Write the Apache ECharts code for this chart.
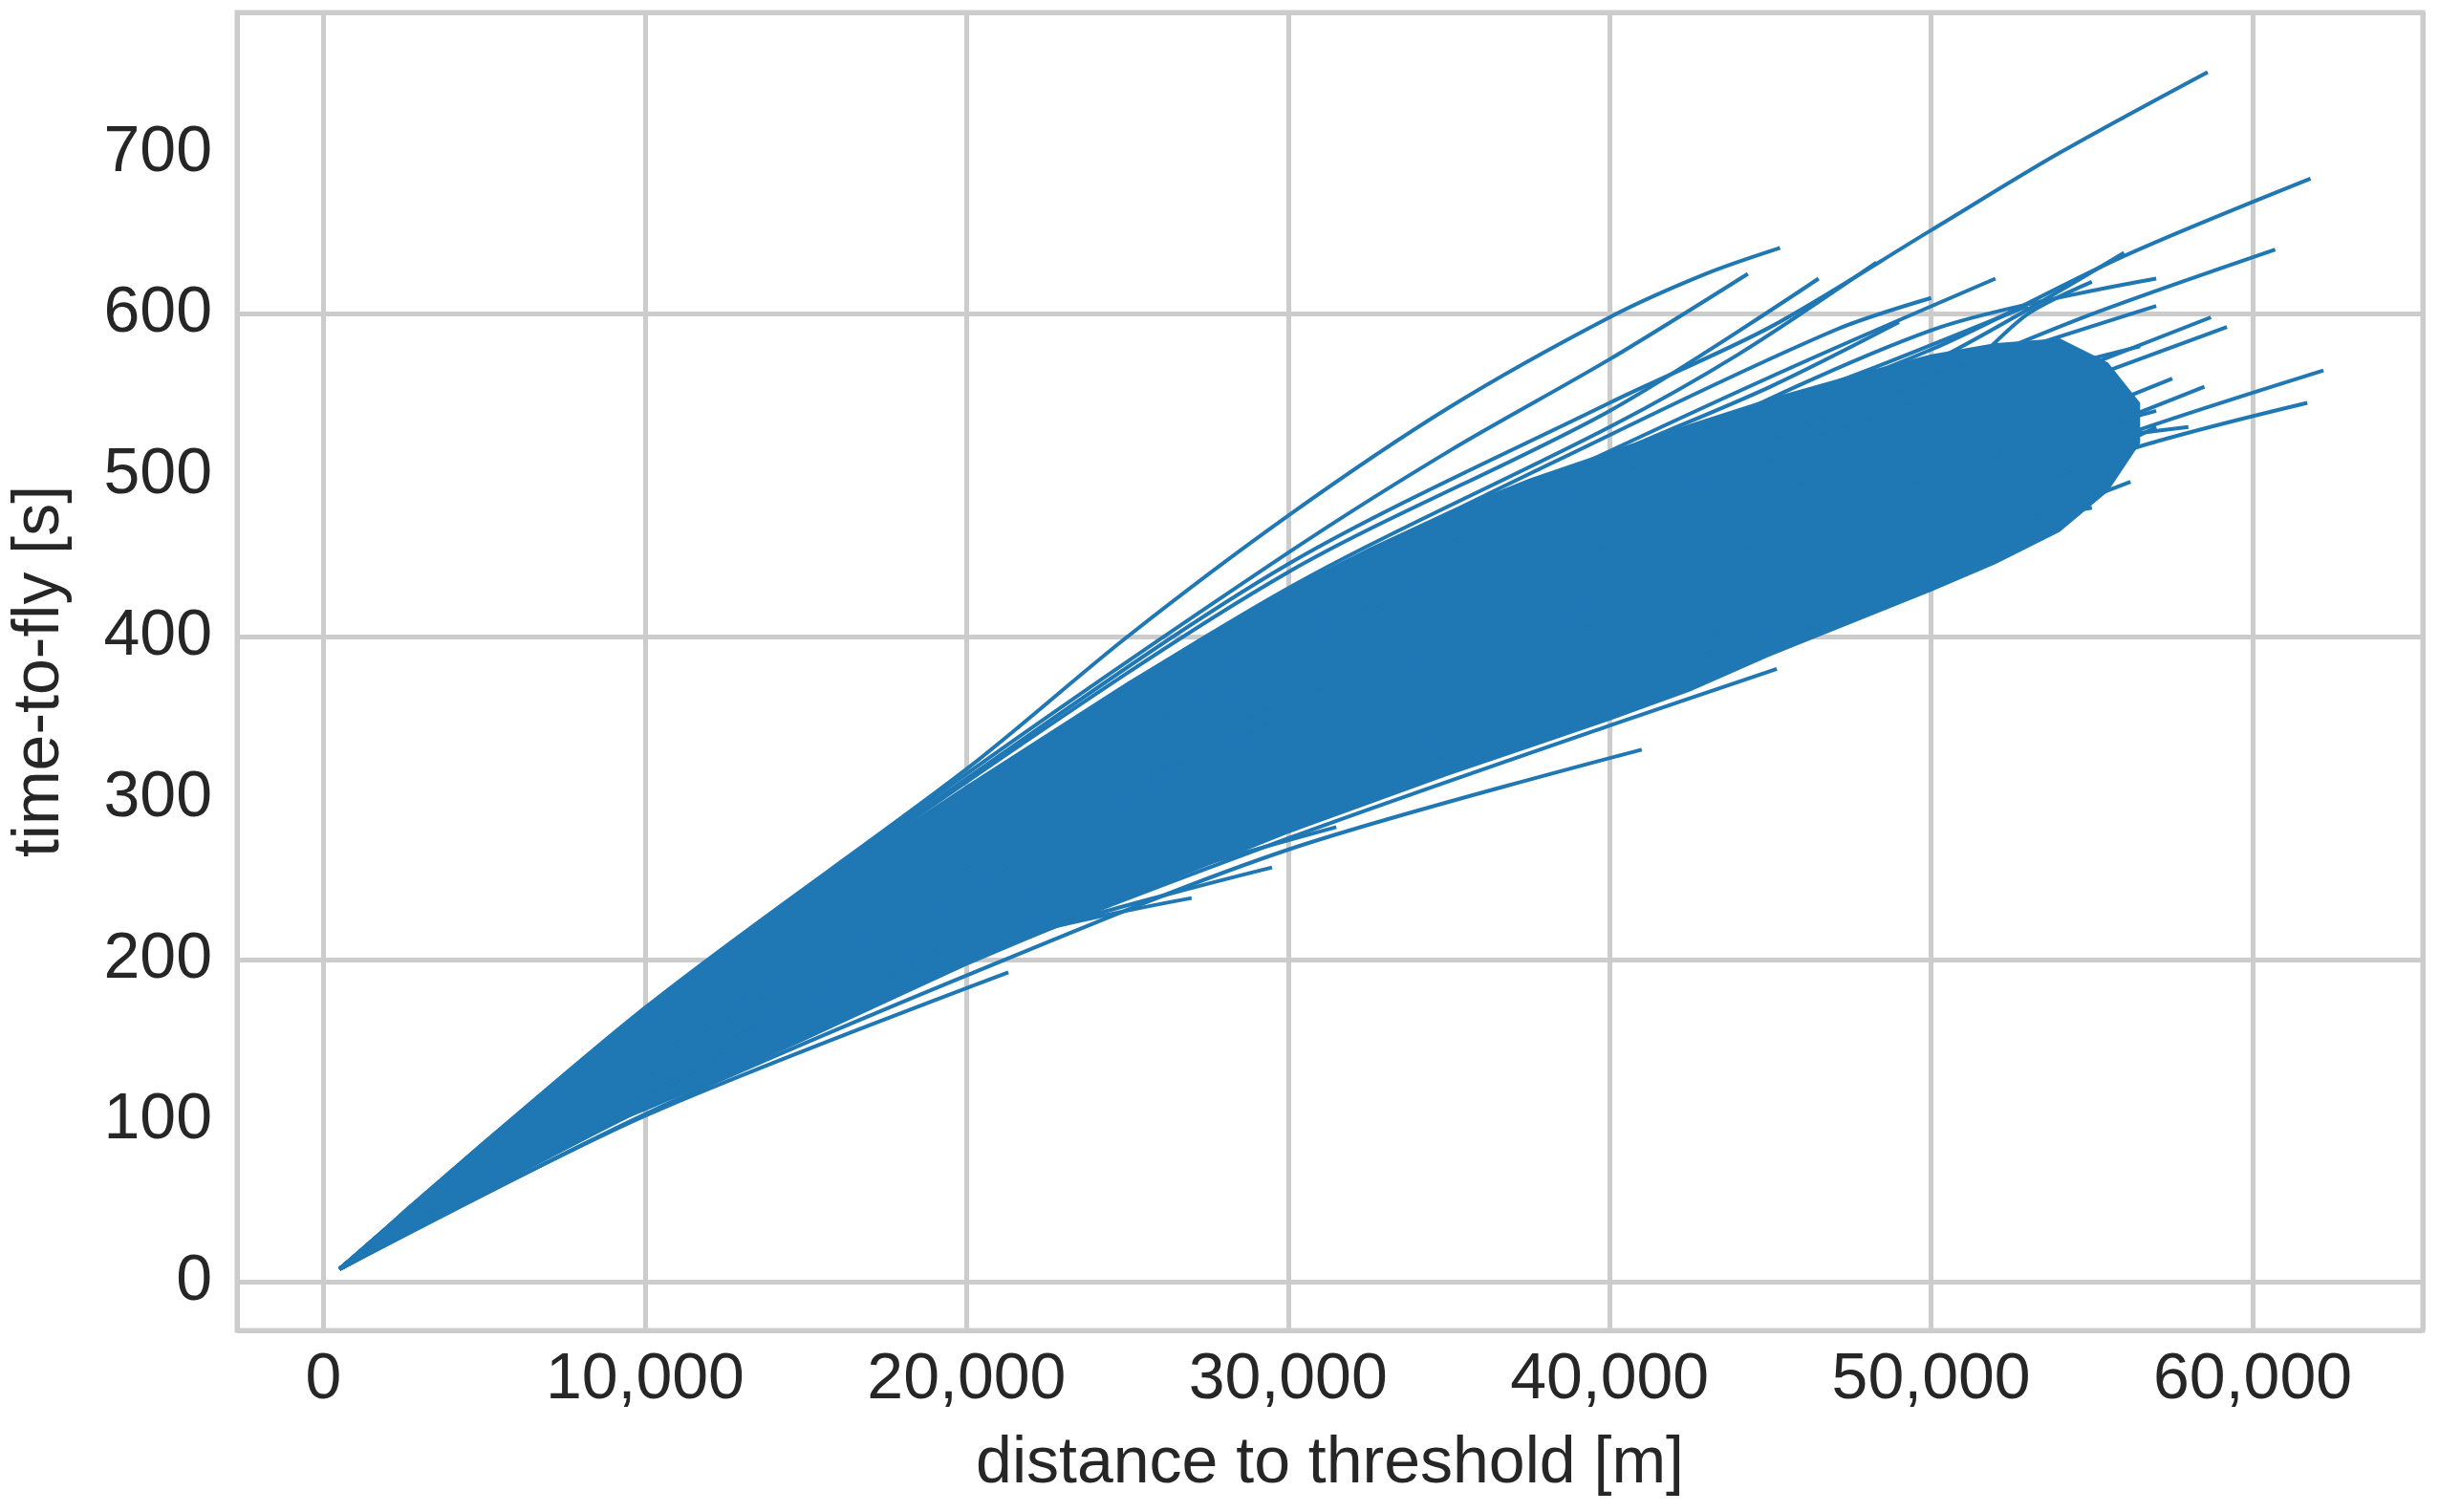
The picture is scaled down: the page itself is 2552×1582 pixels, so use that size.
<!DOCTYPE html>
<html>
<head>
<meta charset="utf-8">
<script src="https://cdn.jsdelivr.net/npm/echarts@6/dist/echarts.min.js"></script>
<style>html,body{margin:0;padding:0;background:#fff}#main{width:2552px;height:1582px}</style>
</head>
<body>
<div id="main"></div>
<script>
var xTicks = [0, 10000, 20000, 30000, 40000, 50000, 60000];
var yTicks = [0, 100, 200, 300, 400, 500, 600, 700];

// dense core of the trajectories: upper and lower edge
var bandUpper = [[500, 8], [2500, 45], [5000, 88], [7500, 130], [10000, 168], [12500, 203], [15000, 240], [17500, 275], [20000, 308], [22500, 340], [25000, 372], [27500, 402], [30000, 430], [32500, 455], [35000, 478], [37500, 498], [40000, 515], [42500, 532], [45000, 548], [47500, 562], [50000, 575], [52000, 582], [54000, 585], [55500, 570], [56500, 545]];
var bandLower = [[500, 8], [2500, 35], [5000, 62], [7500, 86], [10000, 106], [12500, 127], [15000, 150], [17500, 173], [20000, 196], [22500, 217], [25000, 238], [27500, 258], [30000, 278], [32500, 296], [35000, 314], [37500, 331], [40000, 348], [42500, 366], [45000, 388], [47500, 408], [50000, 428], [52000, 445], [54000, 465], [55500, 490], [56500, 520]];

// individual trajectories visible around the core
var tracks = [
  [[500, 8], [10000, 170], [20000, 318], [25000, 400], [30000, 475], [35000, 542], [40000, 598], [43000, 625], [45300, 641]],
  [[500, 8], [10000, 168], [20000, 315], [30000, 452], [35000, 515], [40000, 572], [44300, 625]],
  [[500, 8], [10000, 168], [20000, 312], [30000, 445], [40000, 545], [45000, 592], [50000, 652], [54000, 700], [58600, 750]],
  [[500, 8], [10000, 166], [20000, 310], [30000, 440], [40000, 540], [46500, 622]],
  [[500, 8], [10000, 165], [20000, 305], [30000, 430], [40000, 530], [44000, 575], [48300, 632]],
  [[500, 8], [10000, 164], [20000, 300], [30000, 420], [40000, 515], [46000, 570], [52000, 622]],
  [[500, 8], [10000, 160], [20000, 295], [30000, 410], [40000, 500], [50000, 578], [56000, 636], [61800, 684]],
  [[500, 8], [10000, 158], [20000, 290], [30000, 400], [40000, 485], [50000, 560], [55000, 600], [60700, 640]],
  [[500, 8], [10000, 156], [20000, 285], [30000, 395], [40000, 480], [50000, 570], [56000, 638]],
  [[500, 8], [10000, 150], [20000, 275], [30000, 380], [40000, 455], [50000, 525], [59200, 592]],
  [[500, 8], [10000, 150], [20000, 272], [30000, 375], [40000, 450], [50000, 530], [58700, 598]],
  [[500, 8], [10000, 140], [20000, 255], [30000, 350], [40000, 420], [50000, 480], [56000, 525], [62200, 565]],
  [[500, 8], [10000, 135], [20000, 245], [30000, 340], [40000, 410], [50000, 470], [56000, 515], [61700, 545]],
  [[500, 8], [10000, 138], [20000, 250], [30000, 345], [40000, 420], [50000, 500], [57500, 560]],
  [[500, 8], [10000, 125], [20000, 225], [30000, 315], [40000, 380], [45000, 412], [56200, 496]],
  [[500, 8], [10000, 122], [20000, 220], [30000, 310], [40000, 375], [54500, 490]],
  [[500, 8], [10000, 115], [20000, 210], [30000, 295], [40000, 358], [46000, 405], [52000, 455]],
  [[500, 8], [10000, 112], [20000, 205], [30000, 290], [40000, 365], [47000, 413]],
  [[500, 8], [10000, 108], [20000, 198], [30000, 275], [40000, 345], [45200, 380]],
  [[500, 8], [10000, 104], [20000, 190], [30000, 268], [41000, 330]],
  [[500, 8], [10000, 103], [21300, 192]],
  [[500, 8], [10000, 112], [20000, 205], [27000, 238]],
  [[500, 8], [10000, 110], [20000, 203], [29500, 257]],
  [[500, 8], [10000, 115], [20000, 212], [31500, 282]],
  [[500, 8], [10000, 140], [20000, 255], [30000, 350], [40000, 430], [50000, 500], [57000, 540]],
  [[500, 8], [10000, 145], [20000, 262], [30000, 360], [40000, 440], [50000, 505], [58000, 530]],
  [[500, 8], [10000, 150], [20000, 278], [30000, 390], [40000, 480], [50000, 550], [53000, 600], [55000, 620]],
  [[500, 8], [10000, 148], [20000, 270], [30000, 375], [40000, 470], [51500, 560]],
  [[500, 8], [10000, 140], [20000, 258], [30000, 360], [40000, 455], [48000, 520]],
  [[500, 8], [10000, 130], [20000, 240], [30000, 330], [40000, 400], [50000, 465], [57000, 530]],
  [[500, 8], [10000, 135], [20000, 248], [30000, 345], [40000, 425], [50000, 490], [58500, 555]],
  [[500, 8], [10000, 155], [20000, 282], [30000, 395], [40000, 490], [50000, 560], [57000, 605]],
  [[500, 8], [10000, 158], [20000, 288], [30000, 400], [40000, 500], [50000, 590], [57000, 622]],
  [[500, 8], [10000, 128], [20000, 235], [30000, 325], [40000, 395], [50000, 460], [55000, 480]],
  [[500, 8], [10000, 120], [20000, 222], [30000, 305], [40000, 370], [48000, 430]],
  [[500, 8], [10000, 162], [20000, 302], [30000, 425], [40000, 525], [47000, 590], [50000, 610]],
  [[500, 8], [10000, 160], [20000, 298], [30000, 418], [40000, 512], [45000, 555], [49000, 595]],
  [[500, 8], [10000, 157], [20000, 292], [30000, 410], [40000, 505], [48000, 565], [53000, 605]],
  [[500, 8], [10000, 152], [20000, 280], [30000, 388], [40000, 475], [50000, 545], [56500, 580]],
  [[500, 8], [10000, 132], [20000, 242], [30000, 335], [40000, 410], [50000, 478], [55500, 510]],
  [[500, 8], [10000, 118], [20000, 216], [30000, 300], [40000, 368], [50000, 440], [53000, 470]]
];

var blue = '#1f77b4';
var txt = '#262626';
var fnt = 'Liberation Sans';

var series = [{
  type: 'custom',
  silent: true,
  z: 1,
  renderItem: function (params, api) {
    if (params.dataIndex !== 0) return;
    var pts = bandUpper.concat(bandLower.slice().reverse()).map(function (p) { return api.coord(p); });
    return { type: 'polygon', shape: { points: pts }, style: { fill: blue } };
  },
  data: [[0, 0]]
}];
tracks.forEach(function (t) {
  series.push({
    type: 'line', data: t, showSymbol: false, silent: true, z: 2, smooth: 0.3,
    lineStyle: { color: blue, width: 4 }
  });
});

var chart = echarts.init(document.getElementById('main'));
chart.setOption({
  animation: false,
  grid: { left: 241, right: 17, top: 13, bottom: 190, show: true, borderColor: '#cccccc', borderWidth: 5 },
  xAxis: {
    type: 'value', min: -2690, max: 65290,
    name: 'distance to threshold [m]', nameLocation: 'middle', nameGap: 106,
    nameTextStyle: { fontSize: 68, color: txt, fontFamily: fnt, verticalAlign: 'top' },
    axisLine: { show: false }, axisTick: { show: false },
    axisLabel: { fontSize: 68, color: txt, fontFamily: fnt, margin: 18, customValues: xTicks,
      formatter: function (v) { return v.toLocaleString('en-US'); } },
    splitLine: { show: true, lineStyle: { color: '#cccccc', width: 5 } }
  },
  yAxis: {
    type: 'value', min: -30, max: 787,
    name: 'time-to-fly [s]', nameLocation: 'middle', nameGap: 172,
    nameTextStyle: { fontSize: 68, color: txt, fontFamily: fnt },
    axisLine: { show: false }, axisTick: { show: false },
    axisLabel: { fontSize: 68, color: txt, fontFamily: fnt, margin: 26, customValues: yTicks },
    splitLine: { show: true, lineStyle: { color: '#cccccc', width: 5 } }
  },
  series: series
});
</script>
</body>
</html>
